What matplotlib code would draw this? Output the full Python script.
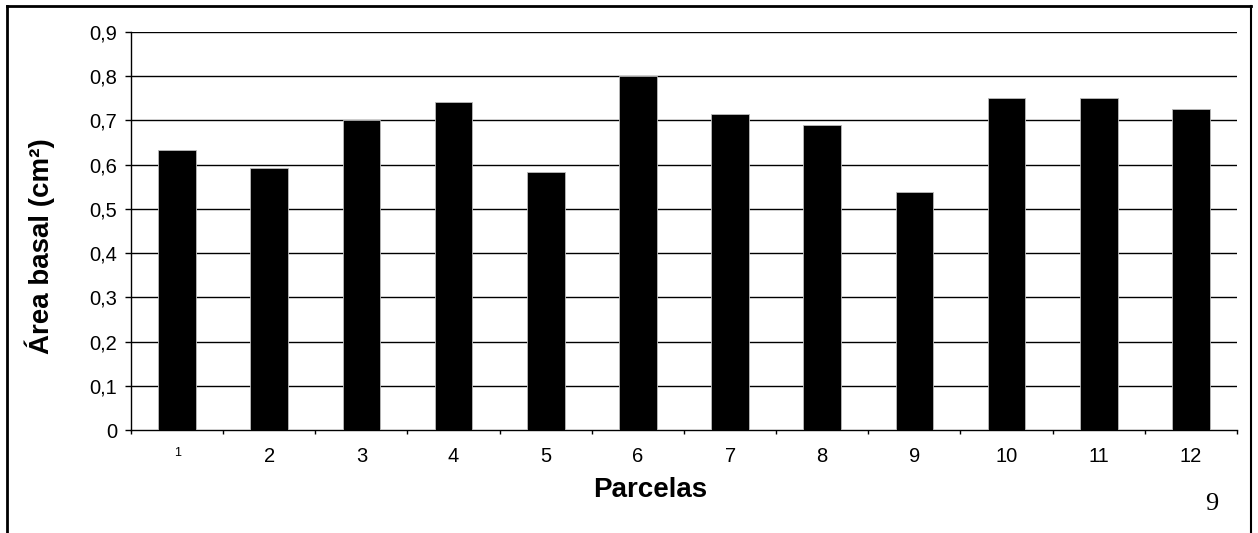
import matplotlib
matplotlib.use('Agg')
import matplotlib.pyplot as plt
from matplotlib.lines import Line2D
import numpy as np

# Basal area per plot
parcelas = ['1', '2', '3', '4', '5', '6', '7', '8', '9', '10', '11', '12']
area_basal = [0.633, 0.593, 0.701, 0.742, 0.584, 0.801, 0.715, 0.689, 0.538, 0.750, 0.750, 0.725]
y_ticks = [0, 0.1, 0.2, 0.3, 0.4, 0.5, 0.6, 0.7, 0.8, 0.9]
y_labels = ['0', '0,1', '0,2', '0,3', '0,4', '0,5', '0,6', '0,7', '0,8', '0,9']

plt.rcParams['font.family'] = ['Liberation Sans', 'DejaVu Sans']

W, H = 1258, 533
fig = plt.figure(figsize=(12.58, 5.33), dpi=100)
ax = fig.add_axes([131/W, 1 - 430/H, (1237 - 131)/W, (430 - 32)/H])

x = np.arange(len(parcelas))
ax.bar(x, area_basal, width=0.41, color='black', edgecolor='#bbbbbb', linewidth=0.6, zorder=3)

ax.set_xlim(-0.5, len(parcelas) - 0.5)
ax.set_ylim(0, 0.9)
ax.set_yticks(y_ticks)
ax.set_yticklabels(y_labels, fontsize=14.5)
for yv in y_ticks[1:]:
    ax.axhline(yv, color='black', linewidth=1.0, zorder=1)

# category labels sit between boundary ticks
ax.set_xticks(x)
ax.set_xticklabels(parcelas, fontsize=14.5)
ax.tick_params(axis='x', length=0, pad=12)
ax.get_xticklabels()[0].set_fontsize(9)
ax.set_xticks(np.arange(-0.5, len(parcelas)), minor=True)
ax.tick_params(axis='x', which='minor', length=3, direction='out', width=1)
ax.tick_params(axis='y', length=4.5, direction='out', width=1, pad=5.5)

for s in ['top', 'right']:
    ax.spines[s].set_visible(False)
ax.spines['left'].set_linewidth(1.0)
ax.spines['bottom'].set_linewidth(1.0)

# axis titles placed by hand, as in the original page
fig.text(650/W, 1 - 497/H, 'Parcelas', fontsize=20, fontweight='bold', ha='center', va='baseline')
fig.text(40/W, 1 - 246/H, 'Área basal (cm²)', fontsize=20, fontweight='bold',
         rotation=90, ha='center', va='center')

# page frame
fig.add_artist(Line2D([7/W, 7/W], [0, 1 - 6/H], color='black', linewidth=2))
fig.add_artist(Line2D([7/W, 1251/W], [1 - 6/H, 1 - 6/H], color='black', linewidth=2))
fig.add_artist(Line2D([1251/W, 1251/W], [0, 1 - 6/H], color='black', linewidth=1.5))

fig.text(1212/W, 1 - 504/H, '9', fontsize=19, family='Liberation Serif', ha='center', va='center')

fig.savefig('out.png', dpi=100)
